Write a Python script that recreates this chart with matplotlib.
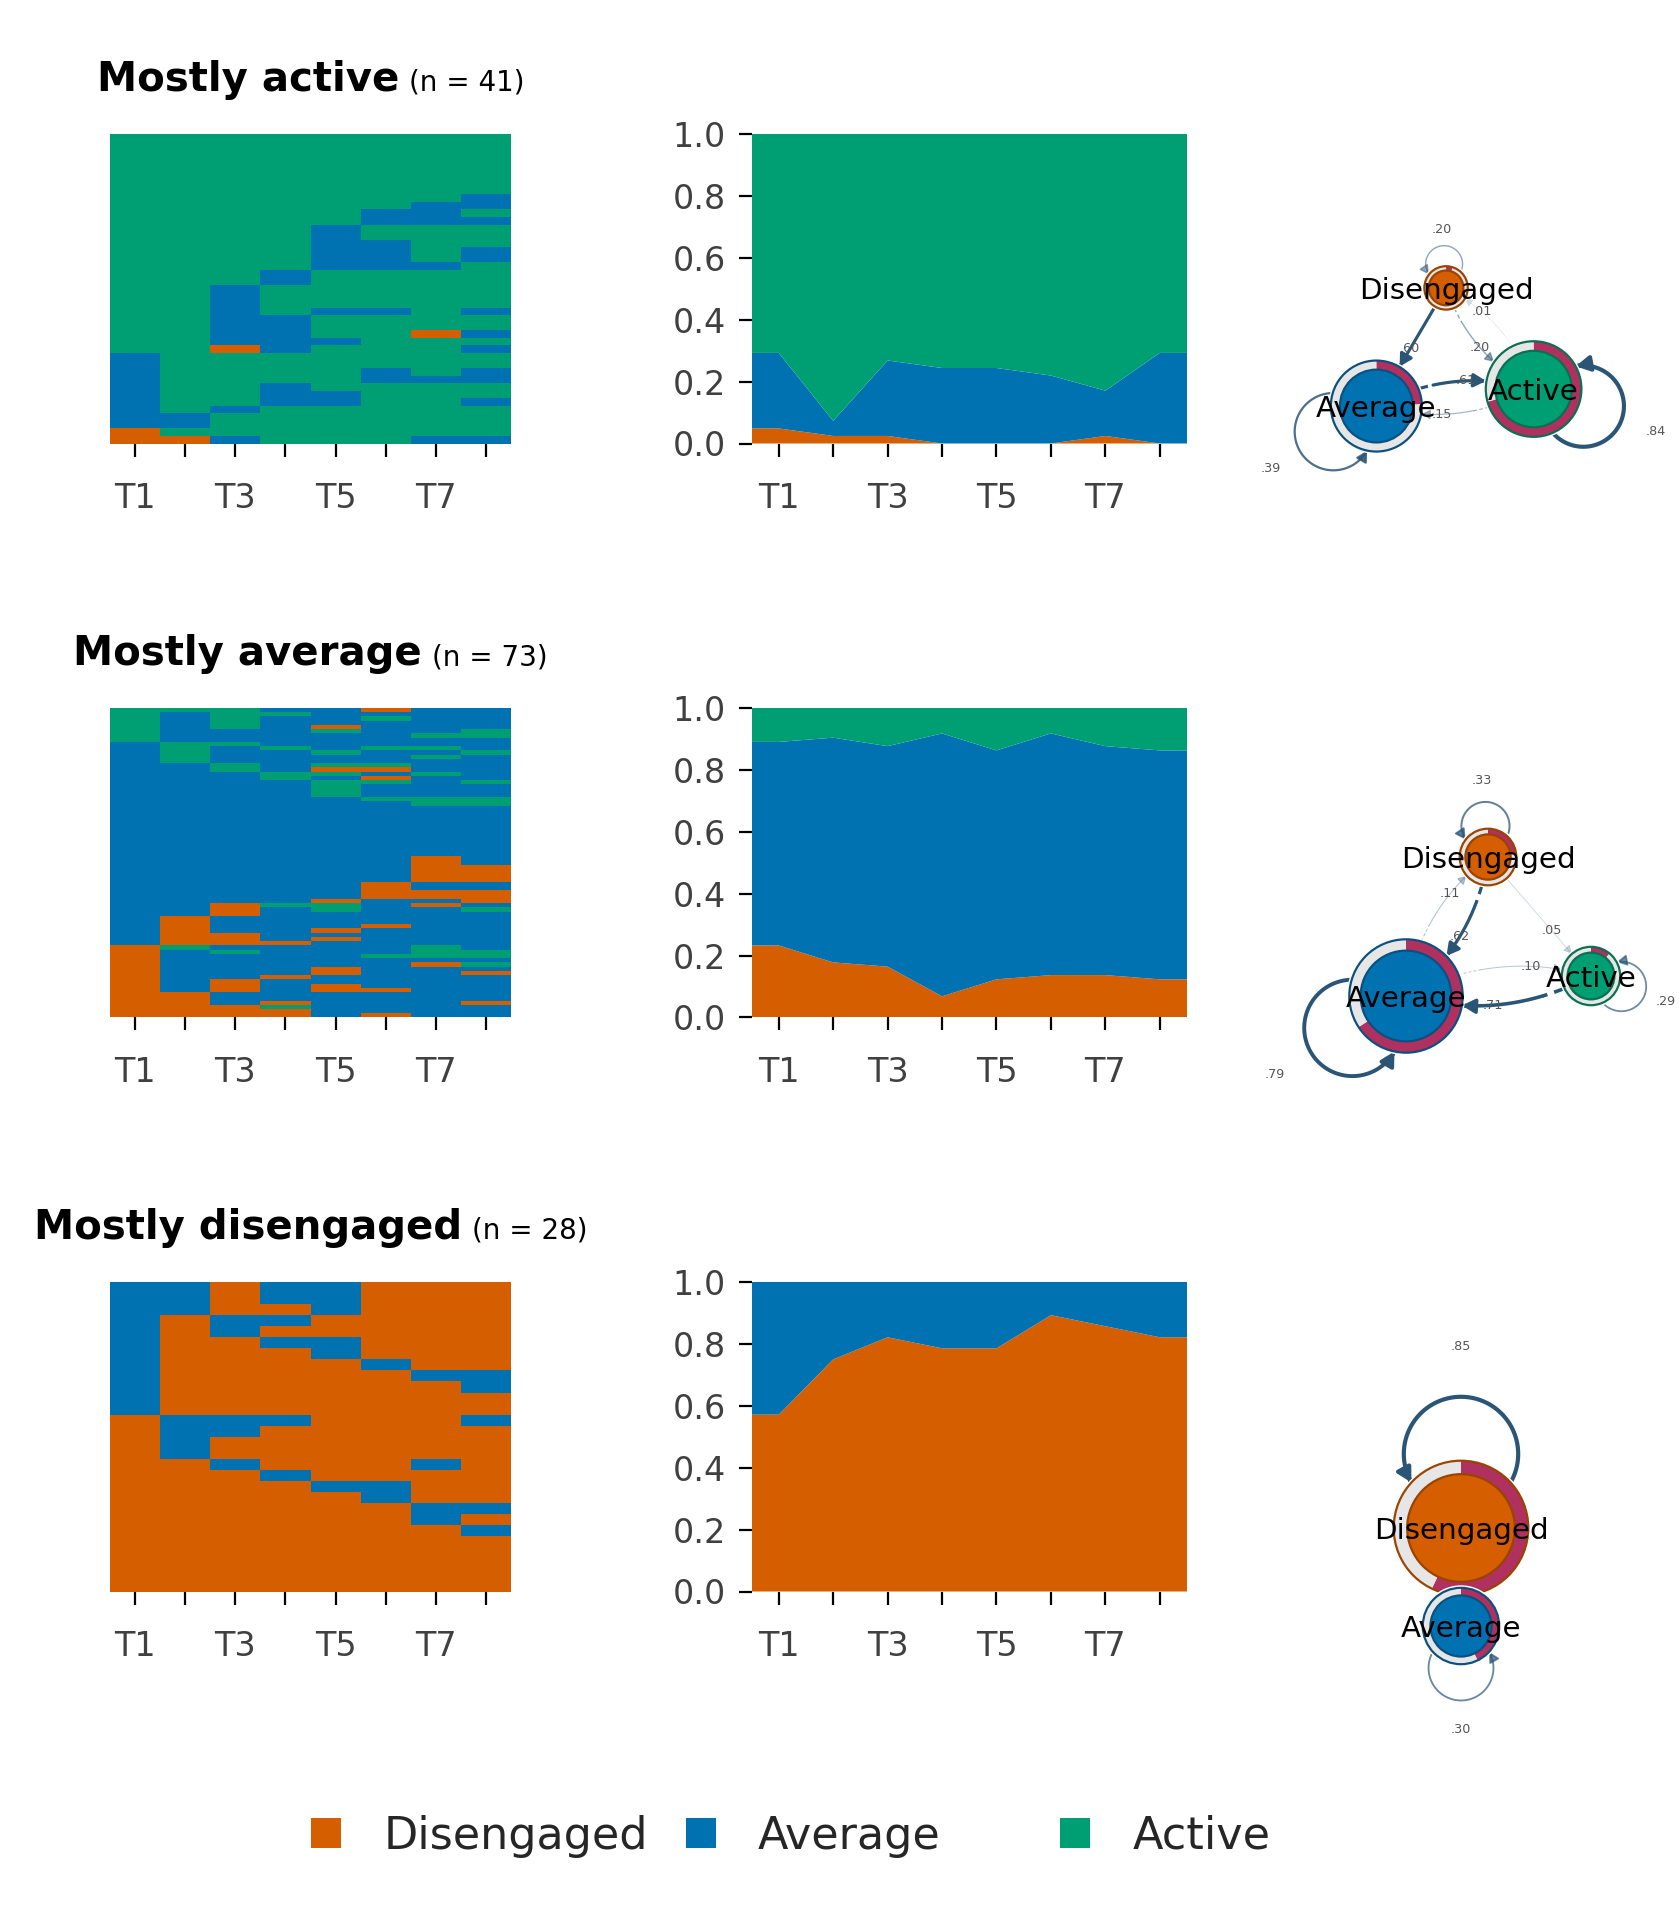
import numpy as np
import matplotlib
matplotlib.use("Agg")
import matplotlib.pyplot as plt
from matplotlib.colors import ListedColormap
from matplotlib.patches import Circle, Wedge, FancyArrowPatch, Patch, ArrowStyle
from matplotlib.path import Path

# ---- data -------------------------------------------------------------
states = ["Disengaged", "Average", "Active"]
state_code = {"D": 0, "A": 1, "C": 2}
times = ["T1", "T2", "T3", "T4", "T5", "T6", "T7", "T8"]
cluster_titles = ["Mostly active", "Mostly average", "Mostly disengaged"]

# one string per student, one letter per time point (D/A/C = Disengaged/Average/Active)
seq_active = [
    "CCCCCCCC", "CCCCCCCC", "CCCCCCCC", "CCCCCCCC", "CCCCCCCC", "CCCCCCCC",
    "CCCCCCCC", "CCCCCCCC", "CCCCCCCA", "CCCCCCAA", "CCCCCAAC", "CCCCCAAA",
    "CCCCACCC", "CCCCACCC", "CCCCAACC", "CCCCAACA", "CCCCAACA", "CCCCAAAC",
    "CCCACCCC", "CCCACCCC", "CCACCCCC", "CCACCCCC", "CCACCCCC", "CCACAACA",
    "CCAACCCC", "CCAACCCC", "CCAACCDA", "CCAAACCC", "CCDACCCA", "ACCCCCCC",
    "ACCCCCCC", "ACCCCACA", "ACCCCAAA", "ACCACCCC", "ACCAACCC", "ACCAACCA",
    "ACACCCCC", "AACCCCCC", "AACCCCCC", "DCCCCCCC", "DDACCCAA",
]
seq_average = [
    "CCCAADAA", "CACCAAAA", "CACAACAA", "CACAAAAA", "CACADAAA", "CAAACAAC",
    "CAAAAACC", "CAAAAAAA", "ACCAAAAA", "ACACACCA", "ACAACAAC", "ACAAAACA",
    "ACAAAAAA", "AACACCAA", "AACADDAA", "AAACCACA", "AAACADAA", "AAAACCAC",
    "AAAACAAA", "AAAACAAA", "AAAACAAA", "AAAAACCC", "AAAAAACC", "AAAAAAAA",
    "AAAAAAAA", "AAAAAAAA", "AAAAAAAA", "AAAAAAAA", "AAAAAAAA", "AAAAAAAA",
    "AAAAAAAA", "AAAAAAAA", "AAAAAAAA", "AAAAAAAA", "AAAAAAAA", "AAAAAADA",
    "AAAAAADA", "AAAAAADD", "AAAAAADD", "AAAAAADD", "AAAAAADD", "AAAAADAA",
    "AAAAADAA", "AAAAADDD", "AAAAADDD", "AAAADAAD", "AADCCADA", "AADACAAC",
    "AADAAAAA", "ADAAAAAA", "ADAAAAAA", "ADAAADAA", "ADAADAAA", "ADDAAAAA",
    "ADDADAAA", "ADDDAAAA", "DCAAAACA", "DACAAACC", "DAAAACCC", "DAAAAAAA",
    "DAAAAADC", "DAAADAAA", "DAAADAAD", "DAADAAAA", "DADAAAAA", "DADADAAA",
    "DADADDAA", "DDAAAAAA", "DDAAAAAA", "DDADAAAD", "DDDCAAAA", "DDDDAAAA",
    "DDDDADAA",
]
seq_disengaged = [
    "AADAADDD", "AADAADDD", "AADDADDD", "ADAADDDD", "ADADDDDD", "ADDAADDD",
    "ADDDADDD", "ADDDDADD", "ADDDDDAA", "ADDDDDDA", "ADDDDDDD", "ADDDDDDD",
    "DAAADDDA", "DAADDDDD", "DADDDDDD", "DADDDDDD", "DDADDDAD", "DDDADDDD",
    "DDDDAADD", "DDDDDADD", "DDDDDDAA", "DDDDDDAD", "DDDDDDDA", "DDDDDDDD",
    "DDDDDDDD", "DDDDDDDD", "DDDDDDDD", "DDDDDDDD",
]
sequences = [seq_active, seq_average, seq_disengaged]

# ---- style / layout ---------------------------------------------------
state_colors = ["#D55E00", "#0072B2", "#009E73"]
state_dark = ["#9A4400", "#0B517F", "#0A7052"]
pie_color, ring_color = "#B03060", "#E6E6E6"
edge_color = "#2B5576"
tick_color = "#404040"

W, H = 1680, 1920
PT = 72 / 200  # points per output pixel
row_top = [134, 708, 1282]
panel_h = 309.5
heat_x = (110, 511)
area_x = (751.5, 1187)

# network drawing: layout coordinates (y up), centre and scale in pixels
layout3 = [(-0.07, 0.86), (-0.89, -0.53), (0.96, -0.33)]
layout2 = [(0.0, 1.0), (0.0, -1.0)]
net_center = [(1452, 361), (1495, 943), (1461, 1577)]
net_scale = [85, 100, 49]
node_radius = [[21.7, 45.5, 47.8], [28.3, 56.7, 29.2], [67.3, 38.2]]
bend = {frozenset((0, 2)): 0.2}   # other two-way pairs bend the other way


def to_matrix(rows):
    return np.array([[state_code[c] for c in r] for r in rows])


def distribution(m):
    return np.array([(m == s).mean(axis=0) for s in range(3)])


def transitions(m):
    counts = np.zeros((3, 3))
    for a, b in zip(m[:, :-1].ravel(), m[:, 1:].ravel()):
        counts[a, b] += 1
    tot = counts.sum(axis=1, keepdims=True)
    return np.divide(counts, tot, out=np.zeros_like(counts), where=tot > 0)


def rect(x0, x1, top, h):
    return [x0 / W, 1 - (top + h) / H, (x1 - x0) / W, h / H]


def style_axis(ax):
    for sp in ax.spines.values():
        sp.set_visible(False)
    ax.set_xticks(range(1, 9))
    ax.set_xticklabels([t if i % 2 == 0 else "" for i, t in enumerate(times)])
    ax.tick_params(direction="out", length=4.7, width=0.8, color="black",
                   labelcolor=tick_color, labelsize=12)
    ax.tick_params(axis="x", pad=9)
    ax.tick_params(axis="y", pad=4.5)


def fmt(w):
    return f"{w:.2f}".lstrip("0")


def edge_style(w):
    lw = (0.6 + 4.2 * w) * PT
    alpha = min(1.0, 0.15 + 1.8 * w)
    head = (6.5 + 6 * w) * PT
    return lw, alpha, head


def draw_path(ax, pts, w, dashed_frac):
    lw, alpha, head = edge_style(w)
    k = int(dashed_frac * (len(pts) - 1))
    if k > 0:
        ax.plot(pts[:k + 1, 0], pts[:k + 1, 1], color=edge_color, alpha=alpha,
                lw=lw, ls=(0, (3, 2)), zorder=2, solid_capstyle="butt")
    arr = FancyArrowPatch(path=Path(pts[k:]),
                          arrowstyle=ArrowStyle("-|>", head_length=1.0, head_width=0.55),
                          mutation_scale=head, lw=lw, color=edge_color,
                          alpha=alpha, zorder=2)
    ax.add_patch(arr)


def draw_edge(ax, p0, p2, r0, r2, w, rad):
    d = p2 - p0
    ctrl = (p0 + p2) / 2 + rad * np.array([-d[1], d[0]])
    t = np.linspace(0, 1, 400)[:, None]
    pts = (1 - t) ** 2 * p0 + 2 * (1 - t) * t * ctrl + t ** 2 * p2
    keep = (np.hypot(*(pts - p0).T) >= r0) & (np.hypot(*(pts - p2).T) >= r2)
    idx = np.flatnonzero(keep)
    seg = pts[idx[0]:idx[-1] + 1]
    draw_path(ax, seg, w, 0.22 if rad != 0 else 0.0)
    lp = seg[int(0.7 * (len(seg) - 1))]
    ax.text(lp[0], lp[1], fmt(w), fontsize=4.6, color="#555555",
            ha="center", va="center", zorder=6)


def draw_loop(ax, p, R, u, w):
    d, r = 1.1 * R, 0.85 * R
    c = p + d * u
    beta = np.arccos((d * d + r * r - R * R) / (2 * d * r))
    phi_u = np.arctan2(u[1], u[0])
    phi = np.linspace(phi_u + np.pi - beta, phi_u - np.pi + beta, 200)
    pts = c + r * np.c_[np.cos(phi), np.sin(phi)]
    draw_path(ax, pts, w, 0.0)
    lp = p + 2.7 * R * u
    ax.text(lp[0], lp[1], fmt(w), fontsize=4.6, color="#555555",
            ha="center", va="center", zorder=6)


def draw_node(ax, p, R, s, p_init):
    ax.add_patch(Circle(p, R + 2.5, fc="white", ec="none", zorder=3))
    a = -90 + 360 * p_init
    if p_init > 0:
        ax.add_patch(Wedge(p, R, -90, a, width=0.2 * R, fc=pie_color, ec="none", zorder=3))
    if p_init < 1:
        ax.add_patch(Wedge(p, R, a, 270, width=0.2 * R, fc=ring_color, ec="none", zorder=3))
    ax.add_patch(Circle(p, R, fc="none", ec=state_dark[s], lw=2.2 * PT, zorder=3))
    ax.add_patch(Circle(p, 0.8 * R, fc=state_colors[s], ec=state_dark[s], lw=2.2 * PT, zorder=3))
    ax.text(p[0], p[1], states[s], fontsize=10.6, color="black",
            ha="center", va="center_baseline", zorder=7)


fig = plt.figure(figsize=(W / 200, H / 200), dpi=200)
axn = fig.add_axes([0, 0, 1, 1])
axn.set_xlim(0, W)
axn.set_ylim(H, 0)
axn.axis("off")

cmap = ListedColormap(state_colors)
title_parts = []

for k, rows in enumerate(sequences):
    m = to_matrix(rows)
    n = len(rows)
    dist = distribution(m)
    top = row_top[k]

    # sequence index plot
    ax = fig.add_axes(rect(*heat_x, top, panel_h))
    ax.pcolormesh(np.arange(0.5, 9), np.arange(n + 1), m, cmap=cmap,
                  vmin=-0.5, vmax=2.5, shading="flat")
    ax.set_xlim(0.5, 8.5)
    ax.set_ylim(n, 0)
    style_axis(ax)
    ax.set_yticks([])
    title_parts.append((cluster_titles[k], f"(n = {n})", top))

    # state distribution plot
    ax2 = fig.add_axes(rect(*area_x, top, panel_h))
    x = np.concatenate([[0.5], np.arange(1, 9), [8.5]])
    layers = [np.concatenate([[d[0]], d, [d[-1]]]) for d in dist]
    ax2.stackplot(x, *layers, colors=state_colors, linewidth=0)
    ax2.set_xlim(0.5, 8.5)
    ax2.set_ylim(0, 1)
    ax2.set_yticks(np.arange(0, 1.01, 0.2))
    ax2.set_yticklabels([f"{v:.1f}" for v in np.arange(0, 1.01, 0.2)])
    style_axis(ax2)

    # transition network
    P = transitions(m)
    present = [s for s in range(3) if (m == s).any()]
    lay = layout3 if len(present) == 3 else layout2
    cen = np.array(net_center[k], float)
    pos = {s: cen + net_scale[k] * np.array([lx, -ly]) for s, (lx, ly) in zip(present, lay)}
    rad_of = {s: r for s, r in zip(present, node_radius[k])}
    centroid = np.mean([pos[s] for s in present], axis=0)
    for i in present:
        for j in present:
            w = P[i, j]
            if round(w, 2) <= 0:
                continue
            if i == j:
                u = pos[i] - centroid
                draw_loop(axn, pos[i], rad_of[i], u / np.hypot(*u), w)
                continue
            dd = np.hypot(*(pos[j] - pos[i]))
            if dd <= rad_of[i] + rad_of[j]:
                continue
            two_way = round(P[j, i], 2) > 0
            rad = bend.get(frozenset((i, j)), -0.2) if two_way else 0.0
            draw_edge(axn, pos[i], pos[j], rad_of[i], rad_of[j], w, rad)
    for s in present:
        draw_node(axn, pos[s], rad_of[s], s, dist[s, 0])

# titles: bold name + small count, centred over the sequence plot
renderer = fig.canvas.get_renderer()
cx = (heat_x[0] + heat_x[1]) / 2
gap = 10
for bold, small, top in title_parts:
    yb = 1 - (top - 43) / H
    t1 = fig.text(0, yb, bold, fontsize=14.5, fontweight="bold", va="baseline", ha="left")
    t2 = fig.text(0, yb, small, fontsize=10, va="baseline", ha="left")
    w1 = t1.get_window_extent(renderer).width
    w2 = t2.get_window_extent(renderer).width
    x0 = cx - (w1 + gap + w2) / 2
    t1.set_x(x0 / W)
    t2.set_x((x0 + w1 + gap) / W)

# legend, three evenly spaced entries
for i, (name, col) in enumerate(zip(states, state_colors)):
    fig.legend(handles=[Patch(facecolor=col, edgecolor="none")], labels=[name],
               loc="center left", bbox_to_anchor=((311 + 374.5 * i) / W, 1 - 1836 / H),
               frameon=False, fontsize=16, handlelength=0.68, handleheight=0.68,
               handletextpad=0.95, borderpad=0, borderaxespad=0, labelcolor="#262626")

fig.savefig("out.png", dpi=200)
